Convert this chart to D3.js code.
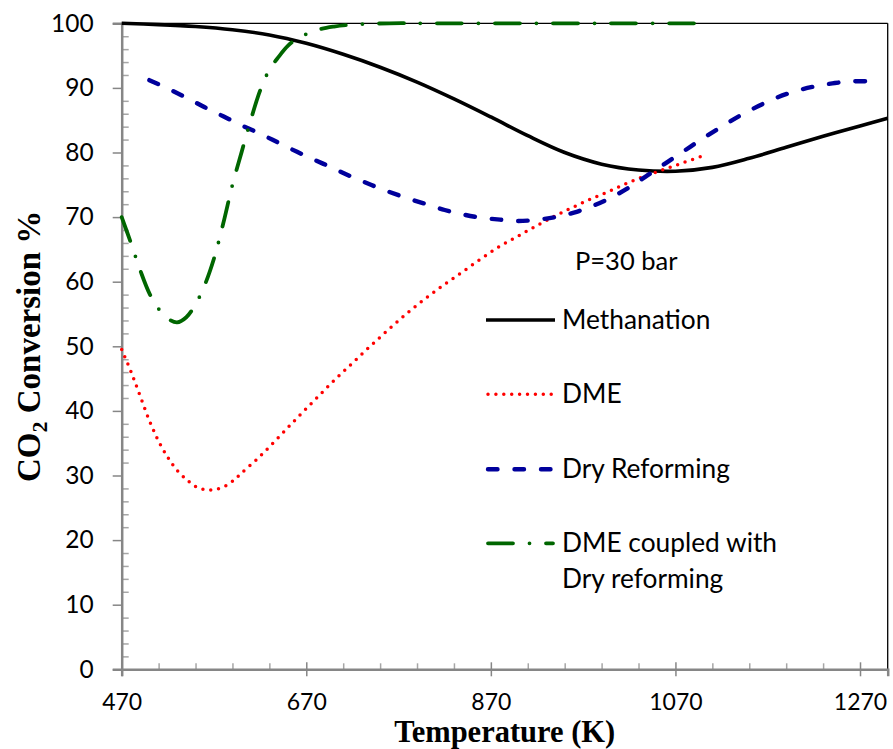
<!DOCTYPE html>
<html>
<head>
<meta charset="utf-8">
<script src="https://cdn.jsdelivr.net/npm/d3@7"></script>
<style>
  html, body { margin: 0; padding: 0; background: #fff; }
  svg { display: block; }
</style>
</head>
<body>
<svg id="chart" width="893" height="749"></svg>
<script>
// Equilibrium CO2 conversion at 30 bar versus temperature
const methanationT   = [470, 510, 550, 590, 630, 670, 710, 750, 790, 830, 870, 910, 950, 990, 1030, 1070, 1110, 1150, 1190, 1230, 1270, 1300];
const methanationCO2 = [100, 99.8, 99.5, 99.0, 98.2, 96.9, 95.2, 93.2, 90.9, 88.3, 85.5, 82.6, 80.0, 78.2, 77.3, 77.1, 77.7, 79.1, 80.8, 82.5, 84.1, 85.3];

const dmeT   = [470, 480, 490, 500, 510, 520, 530, 540, 550, 560, 570, 580, 590, 600, 620, 640, 660, 680, 700, 720, 740, 760, 780, 800, 820, 840, 860, 880, 900, 920, 940, 960, 980, 1000, 1020, 1040, 1060, 1080, 1100];
const dmeCO2 = [49.5, 46.1, 42.3, 38.5, 35.3, 32.8, 30.8, 29.4, 28.3, 27.8, 27.8, 28.2, 29.1, 30.4, 33.0, 35.9, 38.9, 41.8, 44.7, 47.4, 50.1, 52.7, 55.2, 57.5, 59.6, 61.6, 63.6, 65.5, 67.1, 68.7, 70.2, 71.6, 72.9, 74.1, 75.4, 76.5, 77.5, 78.5, 79.5];

const dryRefT   = [500, 520, 540, 560, 580, 600, 620, 640, 660, 680, 700, 720, 740, 760, 780, 800, 820, 840, 860, 880, 900, 920, 940, 960, 980, 1000, 1020, 1040, 1060, 1080, 1100, 1120, 1140, 1160, 1180, 1200, 1220, 1240, 1260, 1280, 1290];
const dryRefCO2 = [91.2, 89.9, 88.5, 87.0, 85.6, 84.2, 82.9, 81.5, 80.1, 78.8, 77.5, 76.2, 75.0, 73.9, 72.9, 72.0, 71.1, 70.4, 69.9, 69.6, 69.4, 69.6, 70.0, 70.7, 71.7, 73.0, 74.6, 76.5, 78.4, 80.3, 82.2, 84.0, 85.7, 87.2, 88.5, 89.5, 90.2, 90.7, 91.0, 91.0, 90.8];

const coupledT   = [470, 480, 490, 500, 510, 520, 530, 540, 550, 560, 570, 580, 590, 600, 610, 620, 630, 640, 650, 660, 680, 700, 720, 760, 800, 900, 1000, 1093];
const coupledCO2 = [70.0, 66.0, 61.8, 58.2, 55.8, 54.3, 53.7, 54.5, 56.5, 59.5, 63.6, 69.0, 75.0, 80.1, 85.1, 89.6, 92.8, 94.8, 96.5, 97.6, 98.9, 99.5, 99.8, 100, 100, 100, 100, 100];

const seriesNames = ["Methanation", "DME", "Dry Reforming", "DME coupled with|Dry reforming"];
const pressureNote = "P=30 bar";

const xMajorTicks = [470, 670, 870, 1070, 1270];
const yMajorTicks = [0, 10, 20, 30, 40, 50, 60, 70, 80, 90, 100];

const svg = d3.select("#chart");
const plotLeft = 121.7, plotRight = 887.7, plotTop = 23.3, plotBottom = 669.3;

const x = d3.scaleLinear().domain([470, 1300]).range([plotLeft, plotRight]);
const y = d3.scaleLinear().domain([0, 100]).range([plotBottom, plotTop]);

const axisGray = "#868686";
const labelFont = "Lato, 'Open Sans', sans-serif";
const titleFont = "'Liberation Serif', 'Times New Roman', serif";

// frame: thin black top and right edges
svg.append("line").attr("x1", plotLeft).attr("x2", plotRight).attr("y1", plotTop).attr("y2", plotTop)
  .attr("stroke", "#000").attr("stroke-width", 1.3);
svg.append("line").attr("x1", plotRight).attr("x2", plotRight).attr("y1", plotTop).attr("y2", plotBottom)
  .attr("stroke", "#000").attr("stroke-width", 1.3);

// minor ticks (inside)
const yMinor = d3.range(2, 100, 2).filter(v => v % 10 !== 0);
svg.append("g").attr("transform", `translate(${plotLeft},0)`)
  .call(d3.axisRight(y).tickValues(yMinor).tickSize(7).tickFormat(""))
  .call(g => g.select(".domain").remove())
  .call(g => g.selectAll(".tick line").attr("stroke", "#a6a6a6").attr("stroke-width", 1.5));

const xMinor = d3.range(510, 1300, 40).filter(v => !xMajorTicks.includes(v));
svg.append("g").attr("transform", `translate(0,${plotBottom})`)
  .call(d3.axisTop(x).tickValues(xMinor).tickSize(6).tickFormat(""))
  .call(g => g.select(".domain").remove())
  .call(g => g.selectAll(".tick line").attr("stroke", "#a6a6a6").attr("stroke-width", 1.5));

// y axis
svg.append("g").attr("transform", `translate(${plotLeft},0)`)
  .call(d3.axisLeft(y).tickValues(yMajorTicks).tickSize(9).tickPadding(19))
  .call(g => g.select(".domain").attr("stroke", axisGray).attr("stroke-width", 2.5))
  .call(g => g.selectAll(".tick line").attr("stroke", axisGray).attr("stroke-width", 1.5))
  .call(g => g.selectAll(".tick text").attr("font-family", labelFont).attr("font-size", 24.5).attr("fill", "#000"));

// x axis with ticks crossing the line
svg.append("g").attr("transform", `translate(0,${plotBottom})`)
  .call(d3.axisBottom(x).tickValues(xMajorTicks).tickSize(7).tickFormat(d3.format("d")))
  .call(g => g.select(".domain").attr("stroke", axisGray).attr("stroke-width", 2.5))
  .call(g => g.selectAll(".tick line").attr("y1", -7).attr("y2", 7).attr("stroke", axisGray).attr("stroke-width", 1.5))
  .call(g => g.selectAll(".tick text").attr("y", 40.7).attr("dy", 0)
      .attr("font-family", labelFont).attr("font-size", 23).attr("fill", "#000"));

// axis titles
svg.append("text").attr("x", (plotLeft + plotRight) / 2).attr("y", 741.5)
  .attr("text-anchor", "middle").attr("font-family", titleFont).attr("font-weight", "bold")
  .attr("font-size", 30.5).attr("fill", "#000").text("Temperature (K)");

const yTitle = svg.append("text")
  .attr("transform", `translate(40,${(plotTop + plotBottom) / 2}) rotate(-90)`)
  .attr("text-anchor", "middle").attr("font-family", titleFont).attr("font-weight", "bold")
  .attr("font-size", 33).attr("fill", "#000");
yTitle.append("tspan").text("CO");
yTitle.append("tspan").attr("font-size", 22).attr("dy", 7).text("2");
yTitle.append("tspan").attr("dy", -7).text(" Conversion %");

// series
const styles = [
  { color: "#000000", width: 3.6, dash: null, cap: "butt" },
  { color: "#ff0000", width: 3.5, dash: "0 7.9", cap: "round" },
  { color: "#00009c", width: 4.4, dash: "9.5 17", cap: "round" },
  { color: "#006600", width: 3.8, dash: "25 16.5 0 16.5", cap: "round" }
];
const series = [
  d3.zip(methanationT, methanationCO2),
  d3.zip(dmeT, dmeCO2),
  d3.zip(dryRefT, dryRefCO2),
  d3.zip(coupledT, coupledCO2)
];

const line = d3.line().x(d => x(d[0])).y(d => y(d[1])).curve(d3.curveCatmullRom.alpha(0.5));

series.forEach((pts, i) => {
  const s = styles[i];
  svg.append("path").datum(pts).attr("d", line)
    .attr("fill", "none").attr("stroke", s.color).attr("stroke-width", s.width)
    .attr("stroke-linecap", s.cap).attr("stroke-linejoin", "round")
    .attr("stroke-dasharray", s.dash);
});

// legend
svg.append("text").attr("x", 575).attr("y", 270)
  .attr("font-family", labelFont).attr("font-size", 25.5).attr("fill", "#000").text(pressureNote);

const legendY = [320, 394.3, 469.3, 543.3];
seriesNames.forEach((name, i) => {
  const s = styles[i];
  const ly = legendY[i];
  const x0 = s.cap === "round" ? 488 : 486;
  const x1 = s.cap === "round" ? 553 : 555;
  svg.append("line").attr("x1", x0).attr("x2", x1).attr("y1", ly).attr("y2", ly)
    .attr("stroke", s.color).attr("stroke-width", s.width)
    .attr("stroke-linecap", s.cap).attr("stroke-dasharray", s.dash);
  const t = svg.append("text").attr("x", 562).attr("y", ly + 9)
    .attr("font-family", labelFont).attr("font-size", 26.3).attr("fill", "#000");
  name.split("|").forEach((part, k) => {
    t.append("tspan").attr("x", 562).attr("dy", k === 0 ? 0 : 35.5).text(part);
  });
});
</script>
</body>
</html>
